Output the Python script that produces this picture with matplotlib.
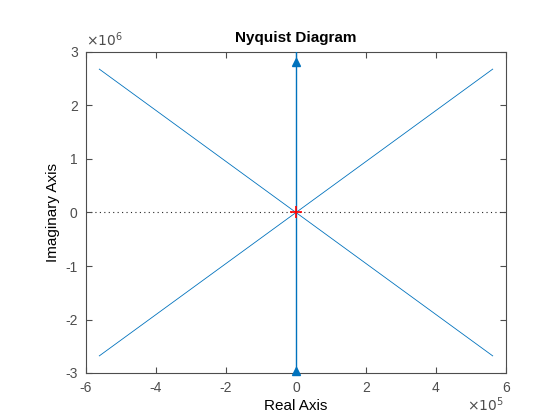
import matplotlib
matplotlib.use("Agg")
import matplotlib.pyplot as plt
from matplotlib.ticker import FuncFormatter, MultipleLocator

plt.rcParams['font.family'] = ['Liberation Sans', 'DejaVu Sans']

# Nyquist branches (real, imaginary)
branch1_re = [-5.62e5, 5.62e5]
branch1_im = [2.68e6, -2.68e6]
branch2_re = [-5.62e5, 5.62e5]
branch2_im = [-2.68e6, 2.68e6]
branch3_re = [0.0, 0.0]
branch3_im = [-4e6, 4e6]
arrow_re = [0.0, 0.0]
arrow_im = [2.81e6, -2.96e6]

xlim = (-6e5, 6e5)
ylim = (-3e6, 3e6)

blue = '#0072BD'
grey = '#262626'
tickc = '#4d4d4d'

fig = plt.figure(figsize=(5.6, 4.2), dpi=100)
ax = fig.add_axes([86/560, 1-373/420, 420/560, 321/420])

ax.axhline(0, color=grey, linestyle=(0, (1, 3)), linewidth=0.8, zorder=1)
ax.plot(branch1_re, branch1_im, color=blue, linewidth=0.6, zorder=2)
ax.plot(branch2_re, branch2_im, color=blue, linewidth=0.6, zorder=2)
ax.plot(branch3_re, branch3_im, color=blue, linewidth=1.0, zorder=3)
ax.plot(arrow_re, arrow_im, linestyle='none', marker='^', markersize=6,
        color=blue, zorder=4, clip_on=False)
ax.plot([0], [0], marker='+', color='red', markersize=8, mew=1.2, zorder=5)

ax.set_xlim(*xlim)
ax.set_ylim(*ylim)
ax.xaxis.set_major_locator(MultipleLocator(2e5))
ax.yaxis.set_major_locator(MultipleLocator(1e6))
ax.xaxis.set_major_formatter(FuncFormatter(lambda v, p: f"{v/1e5:.0f}"))
ax.yaxis.set_major_formatter(FuncFormatter(lambda v, p: f"{v/1e6:.0f}"))

ax.tick_params(direction='in', top=True, right=True, length=4, width=0.8,
               colors=tickc, labelsize=10, pad=6)
for s in ax.spines.values():
    s.set_color(tickc)
    s.set_linewidth(0.8)

ax.set_title('Nyquist Diagram', fontsize=11, fontweight='bold', color='black', pad=7)
ax.set_xlabel('Real Axis', fontsize=11, color='black', labelpad=3)
ax.set_ylabel('Imaginary Axis', fontsize=11, color='black', labelpad=4)

ax.text(0.0, 1.01, r'$\times10^{6}$', transform=ax.transAxes, fontsize=10,
        color=tickc, ha='left', va='bottom', family='DejaVu Sans')
ax.text(0.995, -0.1, r'$\times10^{5}$', transform=ax.transAxes, fontsize=10,
        color=tickc, ha='right', va='center', family='DejaVu Sans')

fig.savefig('out.png', dpi=100)
